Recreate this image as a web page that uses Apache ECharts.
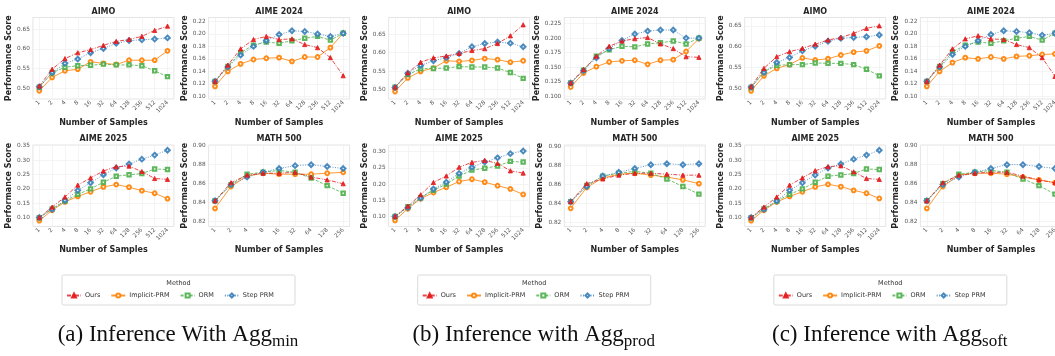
<!DOCTYPE html>
<html><head><meta charset="utf-8">
<script src="https://cdn.jsdelivr.net/npm/echarts@6/dist/echarts.min.js"></script>
<style>html,body{margin:0;padding:0;background:#fff}#c{width:1055px;height:356px}</style>
</head><body><div id="c"></div>
<script>
const methods = ['Ours', 'Implicit-PRM', 'ORM', 'Step PRM'];
const samples11 = ['1','2','4','8','16','32','64','128','256','512','1024'];
const samples9 = ['1','2','4','8','16','32','64','128','256'];
const captionMain = ['(a) Inference With Agg', '(b) Inference with Agg', '(c) Inference with Agg'];
const captionSub = ['min', 'prod', 'soft'];

// tick labels
const ticksAimo = [0.50, 0.55, 0.60, 0.65];
const ticksAime24 = [0.10, 0.12, 0.14, 0.16, 0.18, 0.20, 0.22];
const ticksAime24b = [0.100, 0.125, 0.150, 0.175, 0.200, 0.225];
const ticksAime25 = [0.10, 0.15, 0.20, 0.25, 0.30, 0.35];
const ticksAime25b = [0.10, 0.15, 0.20, 0.25, 0.30];
const ticksMath = [0.82, 0.84, 0.86, 0.88, 0.90];

// (a) Agg_min
const aAimoOurs = [0.505,0.548,0.575,0.590,0.598,0.609,0.619,0.624,0.632,0.647,0.658];
const aAimoImpl = [0.493,0.527,0.544,0.548,0.567,0.563,0.560,0.571,0.571,0.571,0.595];
const aAimoOrm  = [0.502,0.539,0.553,0.557,0.558,0.561,0.559,0.559,0.557,0.544,0.529];
const aAimoStep = [0.503,0.539,0.563,0.574,0.590,0.601,0.614,0.621,0.623,0.625,0.628];
const aA24Ours = [0.124,0.150,0.176,0.191,0.196,0.191,0.192,0.183,0.178,0.162,0.133];
const aA24Impl = [0.116,0.140,0.152,0.159,0.161,0.162,0.156,0.163,0.163,0.178,0.201];
const aA24Orm  = [0.124,0.148,0.170,0.182,0.187,0.185,0.189,0.193,0.196,0.190,0.201];
const aA24Step = [0.124,0.147,0.166,0.180,0.189,0.199,0.205,0.204,0.200,0.196,0.201];
const aA25Ours = [0.101,0.137,0.172,0.213,0.238,0.262,0.277,0.279,0.260,0.236,0.233];
const aA25Impl = [0.090,0.126,0.155,0.174,0.190,0.207,0.215,0.206,0.194,0.185,0.166];
const aA25Orm  = [0.100,0.131,0.158,0.181,0.200,0.223,0.244,0.249,0.253,0.269,0.267];
const aA25Step = [0.101,0.129,0.160,0.195,0.221,0.249,0.272,0.286,0.303,0.317,0.334];
const aMathOurs = [0.842,0.861,0.869,0.871,0.871,0.872,0.867,0.864,0.860];
const aMathImpl = [0.834,0.857,0.868,0.871,0.870,0.870,0.870,0.871,0.872];
const aMathOrm  = [0.842,0.859,0.870,0.872,0.874,0.872,0.866,0.858,0.850];
const aMathStep = [0.842,0.859,0.867,0.872,0.876,0.879,0.880,0.878,0.876];

// (b) Agg_prod
const bAimoOurs = [0.506,0.545,0.574,0.586,0.591,0.598,0.606,0.611,0.625,0.646,0.676];
const bAimoImpl = [0.494,0.531,0.549,0.558,0.578,0.576,0.579,0.584,0.581,0.574,0.578];
const bAimoOrm  = [0.506,0.540,0.556,0.557,0.558,0.562,0.561,0.561,0.558,0.546,0.530];
const bAimoStep = [0.505,0.544,0.565,0.578,0.586,0.598,0.616,0.625,0.629,0.626,0.616];
const bA24Ours = [0.123,0.146,0.169,0.186,0.195,0.199,0.201,0.190,0.182,0.168,0.167];
const bA24Impl = [0.116,0.140,0.151,0.159,0.161,0.162,0.155,0.162,0.163,0.177,0.199];
const bA24Orm  = [0.123,0.145,0.169,0.180,0.186,0.185,0.190,0.192,0.195,0.190,0.200];
const bA24Step = [0.123,0.144,0.166,0.182,0.196,0.207,0.212,0.214,0.214,0.200,0.200];
const bA25Ours = [0.100,0.132,0.167,0.205,0.225,0.252,0.267,0.273,0.264,0.241,0.234];
const bA25Impl = [0.088,0.124,0.155,0.174,0.190,0.208,0.215,0.206,0.195,0.185,0.168];
const bA25Orm  = [0.100,0.130,0.158,0.181,0.200,0.225,0.243,0.249,0.256,0.270,0.268];
const bA25Step = [0.100,0.127,0.157,0.185,0.206,0.233,0.252,0.268,0.281,0.294,0.302];
const bMathOurs = [0.842,0.861,0.866,0.870,0.872,0.872,0.871,0.870,0.870];
const bMathImpl = [0.835,0.857,0.867,0.871,0.872,0.870,0.868,0.865,0.861];
const bMathOrm  = [0.842,0.859,0.869,0.872,0.874,0.872,0.866,0.858,0.850];
const bMathStep = [0.842,0.858,0.869,0.873,0.877,0.881,0.882,0.881,0.882];

// (c) Agg_soft
const cAimoOurs = [0.504,0.548,0.576,0.588,0.596,0.606,0.616,0.622,0.632,0.644,0.650];
const cAimoImpl = [0.494,0.530,0.548,0.557,0.573,0.568,0.571,0.580,0.587,0.590,0.602];
const cAimoOrm  = [0.502,0.540,0.555,0.557,0.557,0.561,0.560,0.560,0.557,0.546,0.530];
const cAimoStep = [0.503,0.538,0.562,0.574,0.590,0.601,0.613,0.620,0.622,0.624,0.628];
const cA24Ours = [0.124,0.150,0.176,0.192,0.197,0.192,0.191,0.183,0.178,0.162,0.132];
const cA24Impl = [0.116,0.140,0.154,0.162,0.160,0.163,0.160,0.164,0.165,0.167,0.168];
const cA24Orm  = [0.124,0.148,0.171,0.182,0.187,0.185,0.189,0.193,0.196,0.190,0.201];
const cA24Step = [0.124,0.147,0.167,0.180,0.189,0.199,0.205,0.204,0.202,0.198,0.201];
const cA25Ours = [0.101,0.137,0.172,0.213,0.238,0.263,0.277,0.280,0.259,0.236,0.233];
const cA25Impl = [0.090,0.126,0.155,0.174,0.190,0.207,0.216,0.208,0.195,0.185,0.167];
const cA25Orm  = [0.100,0.131,0.158,0.181,0.200,0.223,0.244,0.248,0.253,0.269,0.267];
const cA25Step = [0.101,0.129,0.158,0.195,0.221,0.248,0.272,0.286,0.303,0.317,0.334];
const cMathOurs = [0.842,0.861,0.869,0.871,0.872,0.872,0.868,0.864,0.861];
const cMathImpl = [0.834,0.857,0.869,0.871,0.871,0.870,0.867,0.864,0.861];
const cMathOrm  = [0.842,0.860,0.870,0.872,0.874,0.872,0.865,0.858,0.849];
const cMathStep = [0.842,0.859,0.867,0.872,0.876,0.880,0.880,0.878,0.876];

// ---------- layout / styling ----------
const FONT = 'DejaVu Sans';
const SERIF = 'Liberation Serif';
const colors = ['#e41a1c', '#ff7f00', '#4daf4a', '#377eb8'];
const symbols = ['triangle', 'emptyCircle', 'emptyRect', 'emptyDiamond'];
const symSizes = [4.2, 3.8, 3.4, 4.6];
const dashes = [[4, 1.5, 1, 1.5], 'solid', [3, 1.5], [1, 1.5]];

const panelOff = [0, 355.7, 711.8];
const colLeft = [32.9, 208.6];
const rowTop = [17.5, 145];
const plotW = 141, plotH = 81.5;

const subplots = [
  // panel a
  {p:0, r:0, c:0, title:'AIMO', cats:samples11, vals:[aAimoOurs,aAimoImpl,aAimoOrm,aAimoStep], ticks:ticksAimo, dec:2, ymin:0.472, ymax:0.680},
  {p:0, r:0, c:1, title:'AIME 2024', cats:samples11, vals:[aA24Ours,aA24Impl,aA24Orm,aA24Step], ticks:ticksAime24, dec:2, ymin:0.0957, ymax:0.2263},
  {p:0, r:1, c:0, title:'AIME 2025', cats:samples11, vals:[aA25Ours,aA25Impl,aA25Orm,aA25Step], ticks:ticksAime25, dec:2, ymin:0.0698, ymax:0.352},
  {p:0, r:1, c:1, title:'MATH 500', cats:samples9, vals:[aMathOurs,aMathImpl,aMathOrm,aMathStep], ticks:ticksMath, dec:2, ymin:0.815, ymax:0.9007},
  // panel b
  {p:1, r:0, c:0, title:'AIMO', cats:samples11, vals:[bAimoOurs,bAimoImpl,bAimoOrm,bAimoStep], ticks:ticksAimo, dec:2, ymin:0.4736, ymax:0.696},
  {p:1, r:0, c:1, title:'AIME 2024', cats:samples11, vals:[bA24Ours,bA24Impl,bA24Orm,bA24Step], ticks:ticksAime24b, dec:3, ymin:0.0954, ymax:0.2354},
  {p:1, r:1, c:0, title:'AIME 2025', cats:samples11, vals:[bA25Ours,bA25Impl,bA25Orm,bA25Step], ticks:ticksAime25b, dec:2, ymin:0.069, ymax:0.3207},
  {p:1, r:1, c:1, title:'MATH 500', cats:samples9, vals:[bMathOurs,bMathImpl,bMathOrm,bMathStep], ticks:ticksMath, dec:2, ymin:0.8158, ymax:0.9018},
  // panel c
  {p:2, r:0, c:0, title:'AIMO', cats:samples11, vals:[cAimoOurs,cAimoImpl,cAimoOrm,cAimoStep], ticks:ticksAimo, dec:2, ymin:0.4745, ymax:0.670},
  {p:2, r:0, c:1, title:'AIME 2024', cats:samples11, vals:[cA24Ours,cA24Impl,cA24Orm,cA24Step], ticks:ticksAime24, dec:2, ymin:0.0957, ymax:0.2263},
  {p:2, r:1, c:0, title:'AIME 2025', cats:samples11, vals:[cA25Ours,cA25Impl,cA25Orm,cA25Step], ticks:ticksAime25, dec:2, ymin:0.0698, ymax:0.352},
  {p:2, r:1, c:1, title:'MATH 500', cats:samples9, vals:[cMathOurs,cMathImpl,cMathOrm,cMathStep], ticks:ticksMath, dec:2, ymin:0.815, ymax:0.9007}
];

const grids = [], xAxes = [], yAxes = [], series = [], graphics = [];
subplots.forEach((sp, k) => {
  const left = panelOff[sp.p] + colLeft[sp.c];
  const top = rowTop[sp.r];
  grids.push({left, top, width: plotW, height: plotH, show: true, borderColor: '#dedede', borderWidth: 0.8,
              backgroundColor: '#fff', containLabel: false, outerBoundsMode: 'none'});
  const n = sp.cats.length;
  const m = 0.05 * (n - 1);
  const idx = sp.cats.map((_, i) => i);
  xAxes.push({
    type: 'value', gridIndex: k, min: -m, max: n - 1 + m,
    axisLine: {show: false},
    axisTick: {show: false, customValues: idx},
    splitLine: {show: true, lineStyle: {color: '#efefef', width: 0.7}},
    axisLabel: {customValues: idx, formatter: v => sp.cats[Math.round(v)], rotate: 45, fontSize: 5.8,
                color: '#555', margin: 2.5, fontFamily: FONT},
    name: 'Number of Samples', nameLocation: 'middle', nameGap: 19.5, nameMoveOverlap: false,
    nameTextStyle: {fontSize: 8, fontWeight: 'bold', color: '#262626', fontFamily: FONT}
  });
  yAxes.push({
    type: 'value', gridIndex: k, min: sp.ymin, max: sp.ymax,
    axisLine: {show: false},
    axisTick: {show: false, customValues: sp.ticks},
    splitLine: {show: true, lineStyle: {color: '#efefef', width: 0.7}},
    axisLabel: {customValues: sp.ticks, formatter: v => v.toFixed(sp.dec), fontSize: 5.8, color: '#555',
                margin: 3, fontFamily: FONT},
    name: 'Performance Score', nameLocation: 'middle', nameGap: sp.dec === 3 ? 23 : 20, nameMoveOverlap: false,
    nameTextStyle: {fontSize: 8, fontWeight: 'bold', color: '#262626', fontFamily: FONT}
  });
  sp.vals.forEach((arr, j) => {
    series.push({
      type: 'line', name: methods[j], xAxisIndex: k, yAxisIndex: k,
      data: arr.map((v, i) => [i, v]),
      symbol: symbols[j], symbolSize: symSizes[j], showSymbol: true,
      lineStyle: {color: colors[j], width: 1, type: dashes[j], opacity: 0.8},
      itemStyle: {color: colors[j], borderColor: colors[j], borderWidth: 0.9, opacity: 0.9},
      emphasis: {disabled: true}, silent: true, animation: false, z: 2 + (j === 0 ? 1 : 0)
    });
  });
  graphics.push({type: 'text', x: left + plotW / 2, y: top - 5.8, z: 10,
    style: {text: sp.title, fontFamily: FONT, fontSize: 8, fontWeight: 'bold', fill: '#262626',
            align: 'center', verticalAlign: 'middle'}});
});

const legends = [];
panelOff.forEach((off, p) => {
  graphics.push({type: 'rect', shape: {x: off + 62, y: 275, width: 233, height: 30, r: 1.5}, z: 0,
    style: {fill: '#fff', stroke: '#d0d0d0', lineWidth: 0.8}});
  graphics.push({type: 'text', x: off + 178.5, y: 283.5, z: 10,
    style: {text: 'Method', fontFamily: FONT, fontSize: 6.5, fill: '#333', align: 'center', verticalAlign: 'middle'}});
  legends.push({left: off + 66, top: 292, itemWidth: 14, itemHeight: 5, itemGap: 10, padding: 0,
    selectedMode: false, data: methods,
    textStyle: {fontSize: 6.5, color: '#333', fontFamily: FONT, padding: [0, 0, 0, -1]}});
  graphics.push({type: 'text', x: off + 178, y: 335, z: 10,
    style: {text: '{m|' + captionMain[p] + '}{s|' + captionSub[p] + '}', align: 'center', verticalAlign: 'middle',
      rich: {
        m: {fontFamily: SERIF, fontSize: 23, fill: '#111', lineHeight: 32, verticalAlign: 'middle'},
        s: {fontFamily: SERIF, fontSize: 17, fill: '#111', lineHeight: 32, padding: [13, 0, 0, 0], verticalAlign: 'middle'}
      }}});
});

const chart = echarts.init(document.getElementById('c'), null, {renderer: 'canvas'});
chart.setOption({
  animation: false,
  backgroundColor: '#fff',
  grid: grids, xAxis: xAxes, yAxis: yAxes, series,
  legend: legends,
  graphic: graphics
});
</script></body></html>
